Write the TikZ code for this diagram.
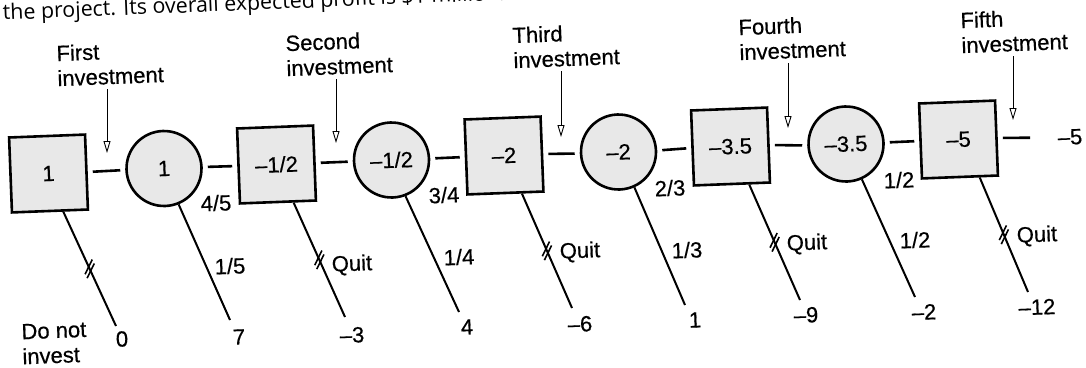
\documentclass[tikz,border=0pt]{standalone}
\usepackage{fontspec}
\setmainfont{Liberation Sans}
\newfontfamily\lblfont{Liberation Sans}[Ligatures=TeX,FakeBold=0.5]
\newfontfamily\topfont{Open Sans}
\usepackage{graphicx}
\usetikzlibrary{arrows.meta,calc}
\tikzset{
  dslash/.pic={
    \draw[line width=1.6pt] (-4.8,5.2) -- (2.9,-9.2);
    \draw[line width=1.6pt] (-2.9,9.2) -- (4.8,-5.2);
  }
}
\begin{document}
\begin{tikzpicture}[x=1pt,y=-1pt,
  every node/.style={rotate=2.2, inner sep=0pt, font=\lblfont\fontsize{22}{25}\selectfont},
  dnode/.style={draw, line width=2.6pt, fill=black!9, minimum width=76pt, minimum height=75pt},
  cnode/.style={circle, draw, line width=2.6pt, fill=black!9, minimum size=75pt},
  conn/.style={line width=2.6pt, shorten <=5pt, shorten >=5pt},
  branch/.style={line width=2pt},
  annarrow/.style={line width=0.9pt, -{Triangle[open, length=12pt, width=7pt, line width=0.9pt]}},
  ann/.style={anchor=north west, align=left},
]
\useasboundingbox (0,0) rectangle (1086,367);
\clip (0,0) rectangle (1086,367);
\fill[white] (0,0) rectangle (1086,367);

% cut-off sentence at the top
\node[anchor=base west, rotate=0.1, font=\topfont] (top) at (3,20)
  {\resizebox{502pt}{!}{the project. Its overall expected profit is \$1 million.}};

% decision boxes and chance circles
\node[dnode] (B1) at (48.5,173.5) {1};
\node[cnode] (C1) at (164,168.5) {1};
\node[dnode] (B2) at (276.5,164.5) {–1/2};
\node[cnode] (C2) at (391.5,160) {–1/2};
\node[dnode] (B3) at (504,155.5) {–2};
\node[cnode] (C3) at (618.5,152) {–2};
\node[dnode] (B4) at (730.5,146.5) {–3.5};
\node[cnode] (C4) at (846,144) {–3.5};
\node[dnode] (B5) at (958.5,139.5) {–5};

% main line connectors
\coordinate (end) at (1030,137.7);
\draw[conn] (B1.east) -- (C1.west);
\draw[conn] (C1.east) -- (B2.west);
\draw[conn] (B2.east) -- (C2.west);
\draw[conn] (C2.east) -- (B3.west);
\draw[conn] (B3.east) -- (C3.west);
\draw[conn] (C3.east) -- (B4.west);
\draw[conn] (B4.east) -- (C4.west);
\draw[conn] (C4.east) -- (B5.west);
\draw[conn, shorten >=0pt] (B5.east) -- (end);
\node (vend) at (1070,137) {–5};

% branch end points
\coordinate (e1) at (116,326);
\coordinate (e2) at (230,320);
\coordinate (e3) at (345,317);
\coordinate (e4) at (459,312);
\coordinate (e5) at (572,308);
\coordinate (e6) at (685,305);
\coordinate (e7) at (800,300);
\coordinate (e8) at (915,297);
\coordinate (e9) at (1028,292);

% branches
\draw[branch] (B1.-71.6) -- coordinate[pos=.5] (m1) (e1);
\draw[branch] (C1.-70) -- (e2);
\draw[branch] (B2.-68.5) -- coordinate[pos=.5] (m2) (e3);
\draw[branch] (C2.-71) -- (e4);
\draw[branch] (B3.-67.8) -- coordinate[pos=.5] (m3) (e5);
\draw[branch] (C3.-68) -- (e6);
\draw[branch] (B4.-66.5) -- coordinate[pos=.5] (m4) (e7);
\draw[branch] (C4.-68) -- (e8);
\draw[branch] (B5.-63.5) -- coordinate[pos=.5] (m5) (e9);

% double slashes on the quit branches
\path (m1) pic {dslash};
\path (m2) pic {dslash};
\path (m3) pic {dslash};
\path (m4) pic {dslash};
\path (m5) pic {dslash};

% probabilities
\node (p45) at (216,203) {4/5};
\node (p15) at (230,266) {1/5};
\node (p34) at (444,195) {3/4};
\node (p14) at (459,257) {1/4};
\node (p23) at (670,188) {2/3};
\node (p13) at (687,250) {1/3};
\node (p12a) at (899,180) {1/2};
\node (p12b) at (915,240) {1/2};

% quit labels
\node (q2) at (352,265) {Quit};
\node (q3) at (580,252) {Quit};
\node (q4) at (807,244) {Quit};
\node (q5) at (1037,236) {Quit};
\node[ann] (dni) at (21,324) {Do not\\invest};

% payoffs
\node (v1) at (122,339) {0};
\node (v2) at (239,337) {7};
\node (v3) at (352,335) {–3};
\node (v4) at (467,327) {4};
\node (v5) at (580,324) {–6};
\node (v6) at (695,320) {1};
\node (v7) at (806,315) {–9};
\node (v8) at (924,312) {–2};
\node (v9) at (1037,307) {–12};

% investment annotations
\node[ann] (a1) at (56,45) {First\\investment};
\node[ann] (a2) at (285,35) {Second\\investment};
\node[ann] (a3) at (512,27) {Third\\investment};
\node[ann] (a4) at (738,19) {Fourth\\investment};
\node[ann] (a5) at (960,12) {Fifth\\investment};
\coordinate (t1) at (107,153);
\coordinate (t2) at (336,143);
\coordinate (t3) at (561,137);
\coordinate (t4) at (788,128);
\coordinate (t5) at (1013,120);
\draw[annarrow] ($(t1 |- a1.south)+(0,5)$) -- (t1);
\draw[annarrow] ($(t2 |- a2.south)+(0,5)$) -- (t2);
\draw[annarrow] ($(t3 |- a3.south)+(0,5)$) -- (t3);
\draw[annarrow] ($(t4 |- a4.south)+(0,5)$) -- (t4);
\draw[annarrow] ($(t5 |- a5.south)+(0,5)$) -- (t5);
\end{tikzpicture}
\end{document}
